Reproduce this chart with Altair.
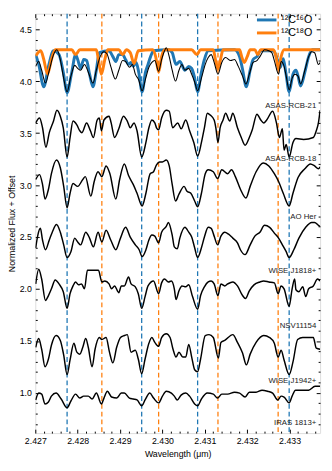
import altair as alt
import pandas as pd

FONT = "Liberation Sans"

# ---------------- data (wavelength in micron, normalized flux + offset) ----------------
rcb21 = [(2.42701,4.143),(2.42708,4.190),(2.42715,4.106),(2.42724,3.983),(2.42733,4.106),(2.42743,4.256),(2.42751,4.303),(2.42759,4.209),(2.42766,4.049),(2.42775,3.899),(2.42784,4.049),(2.42793,4.153),(2.42800,4.124),(2.42807,4.106),(2.42816,4.162),(2.42825,4.087),(2.42836,3.983),(2.42844,4.106),(2.42853,4.237),(2.42862,4.284),(2.42869,4.265),(2.42878,4.143),(2.42889,4.021),(2.42897,4.106),(2.42906,4.199),(2.42913,4.190),(2.42922,4.134),(2.42929,4.162),(2.42936,4.068),(2.42944,4.012),(2.42952,3.908),(2.42960,4.021),(2.42968,4.134),(2.42975,4.181),(2.42982,4.199),(2.42991,4.096),(2.42998,4.209),(2.43005,4.293),(2.43009,4.322),(2.43016,4.237),(2.43023,4.106),(2.43031,4.002),(2.43039,4.106),(2.43046,4.162),(2.43053,4.106),(2.43062,4.124),(2.43069,4.068),(2.43076,3.993),(2.43083,3.908),(2.43092,4.030),(2.43101,4.162),(2.43108,4.228),(2.43115,4.256),(2.43122,4.181),(2.43131,4.068),(2.43140,4.181),(2.43149,4.228),(2.43161,4.199),(2.43170,4.209),(2.43179,4.143),(2.43189,4.049),(2.43197,3.974),(2.43205,4.068),(2.43214,4.181),(2.43223,4.199),(2.43230,4.237),(2.43241,4.303),(2.43251,4.293),(2.43258,4.275),(2.43264,4.199),(2.43274,4.068),(2.43280,4.190),(2.43287,4.143),(2.43292,4.049),(2.43299,3.918),(2.43306,4.030),(2.43313,4.068),(2.43320,4.049),(2.43326,3.974),(2.43336,4.106),(2.43345,4.237),(2.43352,4.284),(2.43359,4.275),(2.43368,4.162),(2.43372,4.181)]

rcb18 = [(2.42701,3.599),(2.42710,3.646),(2.42717,3.552),(2.42725,3.364),(2.42733,3.505),(2.42743,3.617),(2.42751,3.721),(2.42759,3.664),(2.42766,3.552),(2.42775,3.270),(2.42782,3.458),(2.42789,3.617),(2.42798,3.580),(2.42805,3.523),(2.42810,3.505),(2.42821,3.599),(2.42830,3.523),(2.42837,3.458),(2.42846,3.627),(2.42851,3.646),(2.42856,3.523),(2.42862,3.627),(2.42874,3.664),(2.42879,3.599),(2.42887,3.458),(2.42897,3.542),(2.42908,3.664),(2.42917,3.617),(2.42924,3.552),(2.42933,3.599),(2.42940,3.523),(2.42951,3.270),(2.42961,3.411),(2.42968,3.552),(2.42975,3.627),(2.42982,3.599),(2.42986,3.552),(2.42991,3.533),(2.42998,3.646),(2.43009,3.721),(2.43016,3.711),(2.43024,3.552),(2.43036,3.599),(2.43044,3.542),(2.43055,3.627),(2.43064,3.523),(2.43074,3.411),(2.43083,3.279),(2.43092,3.411),(2.43099,3.552),(2.43106,3.692),(2.43113,3.674),(2.43122,3.627),(2.43126,3.552),(2.43131,3.411),(2.43136,3.552),(2.43143,3.627),(2.43149,3.692),(2.43159,3.617),(2.43166,3.692),(2.43177,3.552),(2.43186,3.458),(2.43195,3.383),(2.43205,3.458),(2.43212,3.533),(2.43223,3.683),(2.43232,3.627),(2.43239,3.599),(2.43246,3.627),(2.43260,3.711),(2.43269,3.599),(2.43276,3.458),(2.43283,3.542),(2.43287,3.336),(2.43292,3.392),(2.43299,3.270),(2.43308,3.411),(2.43315,3.448),(2.43333,3.439),(2.43356,3.458),(2.43363,3.523),(2.43368,3.599),(2.43372,3.721)]

aoher = [(2.42701,3.054),(2.42710,3.101),(2.42717,3.007),(2.42723,2.866),(2.42731,2.960),(2.42738,3.110),(2.42750,3.242),(2.42759,3.167),(2.42767,2.988),(2.42775,2.782),(2.42782,2.922),(2.42789,3.016),(2.42800,2.988),(2.42812,3.054),(2.42818,3.082),(2.42831,2.894),(2.42839,3.035),(2.42848,3.129),(2.42857,3.082),(2.42867,3.185),(2.42876,3.110),(2.42890,2.866),(2.42899,3.054),(2.42910,3.204),(2.42920,3.092),(2.42931,3.007),(2.42940,2.922),(2.42952,2.800),(2.42961,2.922),(2.42971,3.110),(2.42979,3.129),(2.42986,3.195),(2.42993,3.223),(2.43000,3.223),(2.43009,3.242),(2.43016,3.185),(2.43023,3.007),(2.43031,2.847),(2.43039,2.913),(2.43051,2.988),(2.43058,2.941),(2.43067,2.922),(2.43076,2.847),(2.43083,2.791),(2.43092,2.922),(2.43101,3.110),(2.43108,3.148),(2.43120,3.129),(2.43130,3.063),(2.43140,3.148),(2.43154,3.110),(2.43163,3.148),(2.43172,3.082),(2.43184,2.960),(2.43197,2.876),(2.43207,2.988),(2.43221,3.129),(2.43238,3.214),(2.43251,3.185),(2.43264,3.110),(2.43274,3.035),(2.43285,2.922),(2.43299,2.800),(2.43308,2.922),(2.43320,3.073),(2.43336,3.157),(2.43349,3.204),(2.43359,3.185),(2.43368,3.157),(2.43372,3.176)]

j1818 = [(2.42701,2.397),(2.42706,2.519),(2.42712,2.584),(2.42717,2.472),(2.42724,2.378),(2.42733,2.472),(2.42740,2.547),(2.42750,2.622),(2.42759,2.547),(2.42767,2.425),(2.42775,2.303),(2.42784,2.359),(2.42793,2.490),(2.42800,2.453),(2.42807,2.425),(2.42819,2.547),(2.42828,2.490),(2.42837,2.406),(2.42848,2.547),(2.42857,2.453),(2.42867,2.566),(2.42878,2.472),(2.42890,2.378),(2.42901,2.490),(2.42913,2.594),(2.42924,2.500),(2.42936,2.425),(2.42945,2.378),(2.42952,2.312),(2.42961,2.378),(2.42968,2.472),(2.42975,2.519),(2.42982,2.509),(2.42991,2.444),(2.42998,2.547),(2.43009,2.603),(2.43014,2.641),(2.43023,2.519),(2.43028,2.406),(2.43035,2.387),(2.43041,2.490),(2.43053,2.594),(2.43062,2.547),(2.43069,2.500),(2.43076,2.397),(2.43083,2.303),(2.43092,2.397),(2.43099,2.500),(2.43108,2.594),(2.43115,2.584),(2.43122,2.509),(2.43130,2.425),(2.43138,2.509),(2.43147,2.547),(2.43156,2.528),(2.43166,2.490),(2.43177,2.444),(2.43184,2.378),(2.43195,2.331),(2.43207,2.425),(2.43218,2.509),(2.43230,2.547),(2.43241,2.613),(2.43253,2.594),(2.43264,2.538),(2.43274,2.490),(2.43283,2.425),(2.43292,2.359),(2.43299,2.303),(2.43310,2.378),(2.43322,2.490),(2.43338,2.594),(2.43352,2.641),(2.43359,2.641),(2.43368,2.613),(2.43372,2.603)]

nsv11154 = [(2.42701,2.049),(2.42708,2.190),(2.42715,2.096),(2.42724,1.890),(2.42731,1.937),(2.42738,2.002),(2.42747,2.087),(2.42756,2.049),(2.42766,1.974),(2.42775,1.814),(2.42782,1.955),(2.42789,2.030),(2.42795,2.068),(2.42802,2.040),(2.42809,2.049),(2.42816,2.002),(2.42823,2.181),(2.42832,2.181),(2.42841,2.181),(2.42849,2.181),(2.42857,2.068),(2.42864,2.077),(2.42874,2.049),(2.42880,2.002),(2.42887,2.030),(2.42897,1.965),(2.42903,2.030),(2.42910,2.030),(2.42920,2.115),(2.42926,2.049),(2.42936,2.021),(2.42943,1.955),(2.42951,1.814),(2.42959,1.927),(2.42966,2.030),(2.42979,2.077),(2.42991,1.955),(2.42998,2.059),(2.43005,2.096),(2.43014,2.068),(2.43021,2.077),(2.43028,2.002),(2.43032,1.899),(2.43039,1.983),(2.43046,2.030),(2.43055,2.021),(2.43062,2.040),(2.43071,1.927),(2.43083,1.805),(2.43090,1.937),(2.43099,2.021),(2.43108,2.068),(2.43115,2.077),(2.43122,2.049),(2.43131,1.937),(2.43138,2.049),(2.43147,2.030),(2.43154,2.049),(2.43166,2.068),(2.43177,2.030),(2.43189,1.937),(2.43196,1.908),(2.43205,1.983),(2.43216,2.040),(2.43230,2.068),(2.43239,2.077),(2.43251,2.068),(2.43264,2.059),(2.43273,1.955),(2.43280,2.030),(2.43287,2.002),(2.43299,1.833),(2.43306,2.002),(2.43312,2.096),(2.43315,1.993),(2.43322,1.974),(2.43331,2.021),(2.43338,1.927),(2.43345,2.002),(2.43356,2.030),(2.43366,2.096),(2.43372,2.077)]

j1942 = [(2.42701,1.439),(2.42708,1.523),(2.42715,1.420),(2.42723,1.251),(2.42731,1.326),(2.42738,1.458),(2.42749,1.552),(2.42759,1.505),(2.42767,1.364),(2.42775,1.176),(2.42782,1.317),(2.42791,1.477),(2.42798,1.392),(2.42805,1.373),(2.42812,1.439),(2.42819,1.523),(2.42825,1.439),(2.42834,1.251),(2.42841,1.420),(2.42851,1.533),(2.42857,1.514),(2.42867,1.533),(2.42875,1.392),(2.42883,1.289),(2.42892,1.439),(2.42901,1.533),(2.42910,1.552),(2.42917,1.561),(2.42926,1.392),(2.42936,1.411),(2.42943,1.326),(2.42951,1.185),(2.42959,1.326),(2.42968,1.477),(2.42975,1.533),(2.42982,1.486),(2.42991,1.448),(2.42998,1.533),(2.43009,1.570),(2.43018,1.533),(2.43025,1.420),(2.43032,1.345),(2.43039,1.392),(2.43048,1.345),(2.43055,1.345),(2.43062,1.467),(2.43069,1.345),(2.43076,1.223),(2.43083,1.204),(2.43090,1.326),(2.43101,1.552),(2.43110,1.561),(2.43120,1.533),(2.43132,1.336),(2.43138,1.486),(2.43147,1.505),(2.43166,1.561),(2.43177,1.486),(2.43189,1.383),(2.43198,1.270),(2.43207,1.373),(2.43221,1.486),(2.43239,1.552),(2.43253,1.533),(2.43264,1.477),(2.43273,1.345),(2.43280,1.411),(2.43287,1.317),(2.43299,1.176),(2.43308,1.298),(2.43319,1.514),(2.43331,1.533),(2.43343,1.533),(2.43356,1.533),(2.43363,1.430),(2.43372,1.420)]

iras1813 = [(2.42701,0.932),(2.42708,0.998),(2.42715,0.988),(2.42723,0.894),(2.42731,0.913),(2.42738,0.969),(2.42749,0.998),(2.42761,0.941),(2.42775,0.857),(2.42784,0.922),(2.42795,0.988),(2.42805,0.950),(2.42814,0.969),(2.42825,0.969),(2.42834,0.941),(2.42844,0.998),(2.42856,0.894),(2.42862,0.950),(2.42870,1.016),(2.42880,0.960),(2.42892,0.950),(2.42903,0.998),(2.42910,0.998),(2.42922,0.950),(2.42931,0.941),(2.42940,0.932),(2.42951,0.876),(2.42959,0.932),(2.42970,0.998),(2.42979,0.950),(2.42991,0.904),(2.43000,0.969),(2.43009,1.016),(2.43021,0.998),(2.43028,0.969),(2.43035,0.932),(2.43044,0.979),(2.43055,0.998),(2.43064,0.969),(2.43076,0.894),(2.43083,0.876),(2.43092,0.941),(2.43106,0.998),(2.43120,0.988),(2.43130,0.950),(2.43140,0.988),(2.43154,0.988),(2.43170,1.007),(2.43182,0.998),(2.43195,0.960),(2.43205,1.007),(2.43221,1.007),(2.43235,1.026),(2.43248,1.016),(2.43260,0.998),(2.43272,0.932),(2.43280,0.969),(2.43287,0.960),(2.43299,0.904),(2.43306,0.969),(2.43314,1.026),(2.43331,1.026),(2.43345,1.026),(2.43360,1.063),(2.43372,1.063)]

model_c16o = [(2.42701,4.256),(2.42708,4.162),(2.42720,3.946),(2.42731,4.143),(2.42743,4.293),(2.42756,4.256),(2.42766,4.087),(2.42775,3.890),(2.42786,4.087),(2.42795,4.256),(2.42800,4.209),(2.42807,4.124),(2.42814,4.209),(2.42821,4.199),(2.42828,4.068),(2.42836,3.946),(2.42844,4.106),(2.42851,4.275),(2.42874,4.293),(2.42883,4.237),(2.42890,4.190),(2.42897,4.256),(2.42906,4.256),(2.42913,4.209),(2.42920,4.162),(2.42926,4.181),(2.42931,4.143),(2.42938,4.181),(2.42944,4.087),(2.42952,3.899),(2.42960,4.087),(2.42966,4.162),(2.42972,4.237),(2.42979,4.293),(2.43014,4.303),(2.43023,4.275),(2.43032,4.162),(2.43041,4.190),(2.43053,4.106),(2.43062,4.143),(2.43069,4.124),(2.43075,4.049),(2.43083,3.899),(2.43091,4.068),(2.43099,4.209),(2.43108,4.293),(2.43170,4.303),(2.43182,4.237),(2.43189,4.115),(2.43198,3.946),(2.43207,4.106),(2.43214,4.209),(2.43223,4.237),(2.43232,4.293),(2.43262,4.293),(2.43271,4.209),(2.43278,4.134),(2.43285,4.218),(2.43291,4.087),(2.43299,3.899),(2.43308,4.068),(2.43315,4.106),(2.43320,4.049),(2.43326,3.955),(2.43336,4.087),(2.43345,4.237),(2.43354,4.303),(2.43372,4.303)]

model_c18o = [(2.42701,4.246),(2.42713,4.293),(2.42720,4.209),(2.42729,4.068),(2.42738,4.209),(2.42747,4.303),(2.42786,4.303),(2.42795,4.256),(2.42805,4.303),(2.42844,4.303),(2.42849,4.209),(2.42856,4.068),(2.42864,4.209),(2.42871,4.303),(2.42897,4.303),(2.42906,4.256),(2.42915,4.303),(2.42924,4.275),(2.42933,4.171),(2.42943,4.293),(2.42977,4.303),(2.42984,4.237),(2.42991,4.087),(2.42998,4.237),(2.43005,4.303),(2.43069,4.303),(2.43081,4.256),(2.43090,4.303),(2.43120,4.303),(2.43125,4.209),(2.43131,4.115),(2.43137,4.209),(2.43143,4.303),(2.43182,4.303),(2.43187,4.237),(2.43193,4.181),(2.43200,4.237),(2.43207,4.303),(2.43218,4.303),(2.43225,4.256),(2.43232,4.303),(2.43262,4.303),(2.43268,4.237),(2.43274,4.115),(2.43280,4.237),(2.43287,4.303),(2.43372,4.303)]

lines_c16o = [2.42775, 2.42951, 2.43083, 2.43299]
lines_c18o = [2.42857, 2.42991, 2.43131, 2.43273]

model_names = ["\u00b9\u00b2C\u00b9\u2076O", "\u00b9\u00b2C\u00b9\u2078O"]
model_colors = ["#1f77b4", "#ff7f0e"]

# legend key (data coordinates inside the upper-right corner of the panel)
legend_flux = [4.590, 4.465]
legend_wl_start = 2.43223
legend_wl_end = 2.43269
legend_wl_text = 2.43280

star_names = ["ASAS-RCB-21", "ASAS-RCB-18", "AO Her", "WISE J1818+", "NSV11154", "WISE J1942+", "IRAS 1813+"]
label_flux = [3.758, 3.251, 2.697, 2.171, 1.645, 1.110, 0.706]
label_wl = 2.43363

x_major = [2.427, 2.428, 2.429, 2.430, 2.431, 2.432, 2.433]
y_major = [1.0, 1.5, 2.0, 2.5, 3.0, 3.5, 4.0, 4.5]
X_DOMAIN = [2.427, 2.43372]
Y_DOMAIN = [0.613, 4.650]

# ---------------- tables ----------------
spectra = [rcb21, rcb18, aoher, j1818, nsv11154, j1942, iras1813]
rows = []
for name, spec in zip(star_names, spectra):
    for w, f in spec:
        rows.append({"star": name, "wl": w, "flux": f})
spec_df = pd.DataFrame(rows)
top_df = spec_df[spec_df.star == star_names[0]]
rest_df = spec_df[spec_df.star != star_names[0]]

mrows = []
for name, spec in zip(model_names, [model_c16o, model_c18o]):
    for w, f in spec:
        mrows.append({"model": name, "wl": w, "flux": f})
model_df = pd.DataFrame(mrows)

legend_df = pd.DataFrame({
    "model": model_names,
    "flux": legend_flux,
    "wl0": [legend_wl_start] * 2,
    "wl1": [legend_wl_end] * 2,
    "wlt": [legend_wl_text] * 2,
})

c16_lines_df = pd.DataFrame({"wl": lines_c16o})
c18_lines_df = pd.DataFrame({"wl": lines_c18o})
label_df = pd.DataFrame({"star": star_names, "flux": label_flux, "wl": [label_wl] * len(star_names)})

x_minor = [round(2.427 + 0.0002 * i, 4) for i in range(34) if i % 5 != 0]
y_minor = [round(0.1 * i, 1) for i in range(7, 47) if i % 5 != 0]

xs = alt.Scale(domain=X_DOMAIN, nice=False, zero=False)
ys = alt.Scale(domain=Y_DOMAIN, nice=False, zero=False)
cs = alt.Scale(domain=model_names, range=model_colors)


def tick_axis(orient, values, size):
    return alt.Axis(orient=orient, values=values, ticks=True, tickSize=size,
                    tickWidth=1, tickColor="black", offset=-size, labels=False,
                    domain=False, grid=False)


x_main = alt.Axis(orient="bottom", values=x_major, format=".3f", ticks=False, tickSize=0,
                  domain=False, grid=False, labelPadding=4, labelFlush=False,
                  labelOverlap=False, labelFontSize=9, labelFont=FONT, labelColor="black",
                  titleFontSize=9, titleFont=FONT, titleFontWeight="normal",
                  titleColor="black", titlePadding=4)
y_main = alt.Axis(orient="left", values=y_major, format=".1f", ticks=False, tickSize=0,
                  domain=False, grid=False, labelPadding=4, labelFlush=False,
                  labelOverlap=False, labelFontSize=9, labelFont=FONT, labelColor="black",
                  titleFontSize=9, titleFont=FONT, titleFontWeight="normal",
                  titleColor="black", titlePadding=3)

color_enc = alt.Color("model:N", scale=cs, legend=None)

blue_rules = alt.Chart(c16_lines_df).mark_rule(
    color="#1f77b4", strokeDash=[5, 3], strokeWidth=1.3
).encode(x=alt.X("wl:Q", scale=xs, axis=x_main, title="Wavelength (\u03bcm)"))

orange_rules = alt.Chart(c18_lines_df).mark_rule(
    color="#ff7f0e", strokeDash=[5, 3], strokeWidth=1.3
).encode(x=alt.X("wl:Q", scale=xs, axis=tick_axis("bottom", x_major, 4), title=None))

blue_model = alt.Chart(model_df).transform_filter(
    alt.datum.model == model_names[0]
).mark_line(strokeWidth=3, interpolate="monotone", clip=True).encode(
    x=alt.X("wl:Q", scale=xs, axis=tick_axis("top", x_major, 4), title=None),
    y=alt.Y("flux:Q", scale=ys, axis=y_main, title="Normalized Flux + Offset"),
    color=color_enc,
)

orange_model = alt.Chart(model_df).transform_filter(
    alt.datum.model == model_names[1]
).mark_line(strokeWidth=3, interpolate="monotone", clip=True).encode(
    x=alt.X("wl:Q", scale=xs, axis=tick_axis("bottom", x_minor, 2), title=None),
    y=alt.Y("flux:Q", scale=ys, axis=tick_axis("left", y_major, 4), title=None),
    color=color_enc,
)

top_line = alt.Chart(top_df).mark_line(
    color="black", strokeWidth=1.1, interpolate="monotone", clip=True
).encode(
    x=alt.X("wl:Q", scale=xs, axis=tick_axis("top", x_minor, 2), title=None),
    y=alt.Y("flux:Q", scale=ys, axis=tick_axis("left", y_minor, 2), title=None),
)

rest_lines = alt.Chart(rest_df).mark_line(
    color="black", strokeWidth=1.5, interpolate="monotone", clip=True
).encode(
    x=alt.X("wl:Q", scale=xs, axis=None),
    y=alt.Y("flux:Q", scale=ys, axis=tick_axis("right", y_major, 4), title=None),
    detail="star:N",
)

labels = alt.Chart(label_df).mark_text(
    align="right", baseline="middle", fontSize=8, font=FONT, color="#222222"
).encode(
    x=alt.X("wl:Q", scale=xs, axis=None),
    y=alt.Y("flux:Q", scale=ys, axis=tick_axis("right", y_minor, 2), title=None),
    text="star:N",
)

legend_keys = alt.Chart(legend_df).mark_rule(strokeWidth=3).encode(
    x=alt.X("wl0:Q", scale=xs, axis=None),
    x2="wl1:Q",
    y=alt.Y("flux:Q", scale=ys, axis=None),
    color=color_enc,
)

legend_text = alt.Chart(legend_df).mark_text(
    align="left", baseline="middle", fontSize=11, font=FONT, color="black"
).encode(
    x=alt.X("wlt:Q", scale=xs, axis=None),
    y=alt.Y("flux:Q", scale=ys, axis=None),
    text="model:N",
)

chart = alt.layer(
    blue_rules, orange_rules, blue_model, orange_model, top_line, rest_lines, labels,
    legend_keys, legend_text
).resolve_axis(
    x="independent", y="independent"
).properties(
    width=292, height=430,
    padding={"left": 28, "top": 0, "right": 4, "bottom": 33},
    autosize=alt.AutoSizeParams(type="none"),
).configure_view(
    stroke="black", strokeWidth=1
).configure(font=FONT)

chart.save("out.html", embed_options={"renderer": "svg", "actions": False})
